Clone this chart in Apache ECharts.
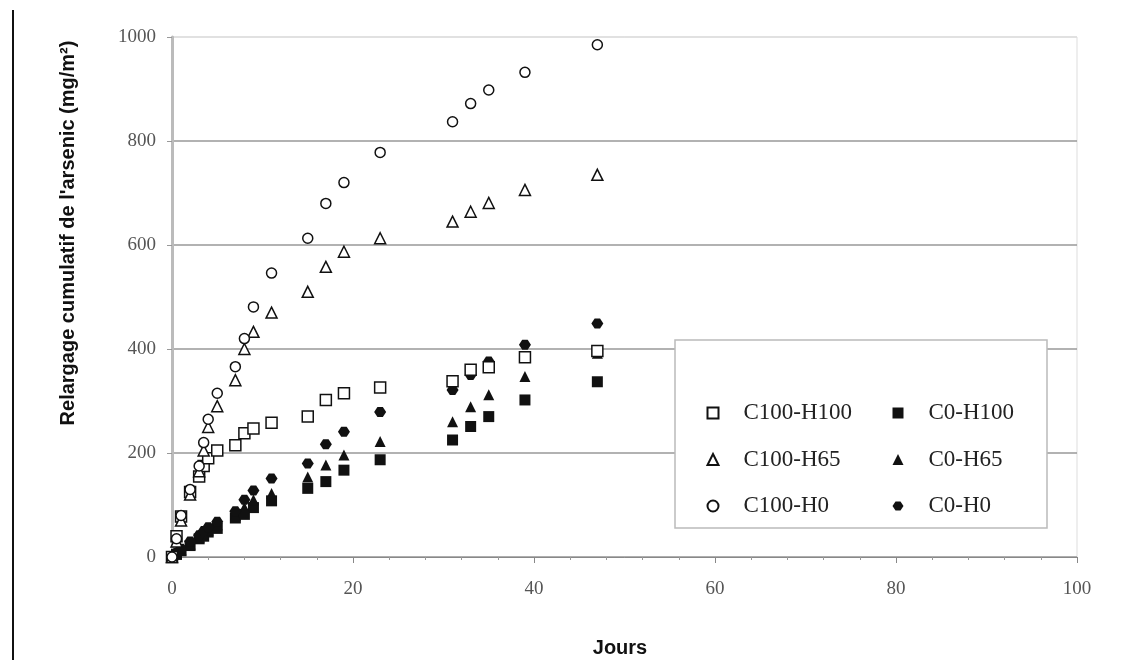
<!DOCTYPE html>
<html><head><meta charset="utf-8">
<script src="https://cdn.jsdelivr.net/npm/echarts@6/dist/echarts.min.js"></script>
<style>html,body{margin:0;padding:0;background:#fff}#c{width:1139px;height:660px}</style>
</head><body><div id="c"></div>
<script>
const days = [0, 0.5, 1, 2, 3, 3.5, 4, 5, 7, 8, 9, 11, 15, 17, 19, 23, 31, 33, 35, 39, 47];
const C100_H100 = [0, 40, 78, 125, 155, 175, 190, 205, 215, 238, 247, 258, 270, 302, 315, 326, 338, 360, 365, 384, 396];
const C100_H65  = [0, 30, 70, 120, 165, 205, 250, 290, 340, 400, 433, 470, 510, 558, 587, 613, 645, 664, 681, 706, 735];
const C100_H0   = [0, 35, 80, 130, 175, 220, 265, 315, 366, 420, 481, 546, 613, 680, 720, 778, 837, 872, 898, 932, 985];
const C0_H100   = [0, 5, 12, 22, 35, 40, 48, 55, 75, 82, 95, 108, 132, 145, 167, 187, 225, 251, 270, 302, 337];
const C0_H65    = [0, 6, 14, 25, 38, 45, 52, 62, 80, 95, 110, 122, 154, 177, 196, 222, 260, 289, 312, 347, 392];
const C0_H0     = [0, 8, 16, 30, 42, 50, 57, 68, 88, 110, 128, 151, 180, 217, 241, 279, 321, 350, 376, 408, 449];
const seriesNames = ['C100-H100', 'C100-H65', 'C100-H0', 'C0-H100', 'C0-H65', 'C0-H0'];
const xTicks = [0, 20, 40, 60, 80, 100];
const yTicks = [0, 200, 400, 600, 800, 1000];

const pair = v => days.map((d, i) => [d, v[i]]);
const openStyle = {color: '#fff', borderColor: '#111', borderWidth: 1.5, opacity: 1};
const fillStyle = {color: '#111', borderColor: '#111', borderWidth: 0, opacity: 1};
const blob = 'path://M0,5 L3,0.5 L8,0.5 L11,5 L8,9.5 L3,9.5 Z';
const mk = (name, data, symbol, size, style, z) => ({
  name, type: 'scatter', data: pair(data), symbol, symbolSize: size,
  itemStyle: style, z, emphasis: {disabled: true}
});
const chart = echarts.init(document.getElementById('c'), null, {renderer: 'canvas'});
const serif = '"Liberation Serif", "DejaVu Serif", serif';
const legendText = {fontFamily: serif, fontSize: 23, color: '#222', lineHeight: 24, padding: [0, 0, 0, 20]};
chart.setOption({
  animation: false,
  backgroundColor: '#fff',
  grid: {left: 172, right: 62, top: 37, bottom: 103, show: true, borderColor: '#ddd', borderWidth: 1},
  xAxis: {
    type: 'value', min: 0, max: 100, interval: 20,
    axisLine: {show: true, lineStyle: {color: '#888', width: 1}},
    axisTick: {show: true, length: 6, lineStyle: {color: '#888'}},
    minorTick: {show: true, splitNumber: 5, length: 3, lineStyle: {color: '#999'}},
    splitLine: {show: false},
    axisLabel: {margin: 23, color: '#555', fontFamily: serif, fontSize: 19,
      formatter: v => xTicks.includes(v) ? String(v) : ''}
  },
  yAxis: {
    type: 'value', min: 0, max: 1000, interval: 200,
    axisLine: {show: true, lineStyle: {color: '#bbb', width: 3}},
    axisTick: {show: true, length: 5, lineStyle: {color: '#999'}},
    splitLine: {show: true, lineStyle: {color: ['#999', '#999', '#999', '#999', '#999', '#ddd'], width: 1.5}},
    axisLabel: {margin: 16, color: '#555', fontFamily: serif, fontSize: 19,
      formatter: v => yTicks.includes(v) ? String(v) : ''}
  },
  legend: [
    {data: seriesNames.slice(0, 3), orient: 'vertical', left: 701.5, top: 396, z: 10,
     itemWidth: 11, itemHeight: 11, itemGap: 22.5, textStyle: legendText},
    {data: seriesNames.slice(3), orient: 'vertical', left: 887.5, top: 396, z: 10,
     itemWidth: 11, itemHeight: 11, itemGap: 22.5, textStyle: legendText}
  ],
  graphic: [
    {type: 'rect', shape: {x: 675, y: 340, width: 372, height: 188}, z: 3,
     style: {fill: '#fff', stroke: '#bbb', lineWidth: 1.5}},
    {type: 'line', shape: {x1: 13, y1: 10, x2: 13, y2: 660}, style: {stroke: '#111', lineWidth: 2}},
    {type: 'text', x: 68, y: 233, rotation: Math.PI / 2,
     style: {text: "Relargage cumulatif de l'arsenic (mg/m²)", font: 'bold 20px "Liberation Sans", sans-serif',
       fill: '#111', textAlign: 'center', textVerticalAlign: 'middle'}},
    {type: 'text', x: 620, y: 648,
     style: {text: 'Jours', font: 'bold 20px "Liberation Sans", sans-serif', fill: '#111',
       textAlign: 'center', textVerticalAlign: 'middle'}}
  ],
  series: [
    mk('C0-H100', C0_H100, 'rect', 11, fillStyle, 2),
    mk('C0-H65', C0_H65, 'triangle', 11, fillStyle, 2),
    mk('C0-H0', C0_H0, blob, [12, 10], fillStyle, 2),
    mk('C100-H100', C100_H100, 'rect', 11, openStyle, 3),
    mk('C100-H65', C100_H65, 'triangle', 11, openStyle, 3),
    mk('C100-H0', C100_H0, 'circle', 10, openStyle, 3)
  ]
});
</script></body></html>
